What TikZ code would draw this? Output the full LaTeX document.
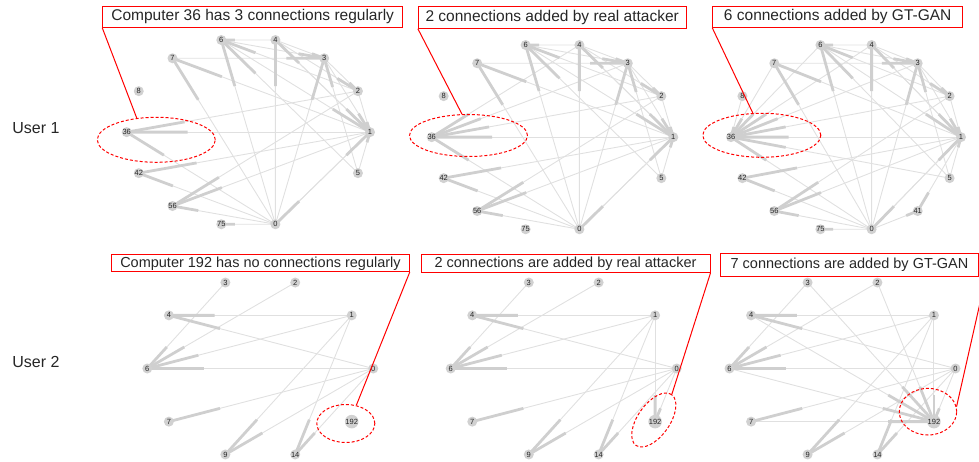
\documentclass[tikz,border=0pt]{standalone}
\usepackage{fontspec}
\setmainfont{Liberation Sans}
\usetikzlibrary{calc,backgrounds,shapes.geometric}

\tikzset{
  host/.style={circle, fill=black!18, minimum size=10pt, inner sep=0pt,
    font=\fontsize{7.5}{8}\selectfont, text=black!85},
  link/.style={black!12, line width=0.9pt},
  linkhead/.style={black!19, line width=2.8pt},
  note/.style={draw=red, line width=0.9pt, inner sep=0pt, text=black!85},
  topnote/.style={note, font=\fontsize{15.5}{16}\selectfont},
  lownote/.style={note, font=\fontsize{14.5}{15}\selectfont},
  ring/.style={ellipse, draw=red, line width=1pt, dash pattern=on 3pt off 2pt, inner sep=0pt},
  pointer/.style={red, line width=1pt},
  rowlabel/.style={font=\fontsize{16}{18}\selectfont, text=black!85},
}

% hosts on an ellipse: prefix, cx, cy, rx, ry, slots, slot/label list
\newcommand{\placehosts}[7]{%
  \edef\hostlist{#7}%
  \foreach \k/\lab in \hostlist
    \node[host] (#1\lab) at ({#2+#4*cos(\k*360/#6)}, {#3-#5*sin(\k*360/#6)}) {\lab};
}
% links source/target, thick quarter at the target end
\newcommand{\drawlinks}[2]{%
  \edef\linklist{#2}%
  \begin{pgfonlayer}{background}
    \foreach \src/\dst in \linklist
      \draw[link] (#1\src.center) -- (#1\dst.center);
    \foreach \src/\dst in \linklist
      \draw[linkhead] ($(#1\src.center)!0.75!(#1\dst.center)$) -- (#1\dst.center);
  \end{pgfonlayer}
}

\newcommand{\topslots}{0/1,1/2,2/3,3/4,4/6,5/7,6/8,7/36,8/42,9/56,10/75,11/0,13/5}
\newcommand{\lowslots}{0/0,1/1,2/2,3/3,4/4,5/6,6/7,7/9,8/14,9/192}
\newcommand{\toplinks}{1/36,2/36,0/36,1/42,0/42,2/56,1/56,0/56,7/3,1/7,0/7,0/4,1/4,4/6,2/6,5/6,0/6,0/3,5/3,6/3,4/3,6/1,4/1,3/1,2/1,0/1,1/0,5/1,3/2,4/2}
\newcommand{\lowlinks}{1/4,0/4,3/6,2/6,1/6,0/6,0/7,1/9,0/9,1/14,0/14}

\begin{document}
\begin{tikzpicture}[x=1pt, y=-1pt]
  \useasboundingbox (0,0) rectangle (979,462);
  % row labels
  \node[rowlabel] (user1) at (36,128) {User 1};
  \node[rowlabel] (user2) at (36,362) {User 2};

  % User 1: regular, real attacker, GT-GAN
  \placehosts{a}{248.35}{132.15}{121.65}{94.5}{14}{\topslots}
  \placehosts{b}{552.5}{137.15}{120.8}{94.5}{14}{\topslots}
  \placehosts{c}{846}{137.15}{115}{94.5}{14}{\topslots,12/41}
  \drawlinks{a}{\toplinks,0/75}
  \drawlinks{b}{\toplinks,3/36,4/36}
  \drawlinks{c}{\toplinks,0/75,8/36,7/36,6/36,4/36,3/36,5/36,1/41,0/41}

  % User 2: regular, real attacker, GT-GAN
  \placehosts{d}{260.3}{368.5}{113}{90.4}{10}{\lowslots}
  \placehosts{e}{563.7}{368.5}{113}{90.4}{10}{\lowslots}
  \placehosts{f}{842.5}{368.5}{113}{90.4}{10}{\lowslots}
  \drawlinks{d}{\lowlinks}
  \drawlinks{e}{\lowlinks,1/192,0/192}
  \drawlinks{f}{\lowlinks,3/192,2/192,4/192,1/192,6/192,0/192,7/192}

  % notes on User 1
  \node[topnote, minimum width=300pt, minimum height=21.3pt] (n1) at (252.7,16.7) {Computer 36 has 3 connections regularly};
  \node[topnote, minimum width=267.7pt, minimum height=22.3pt] (n2) at (552.2,17.2) {2 connections added by real attacker};
  \node[topnote, minimum width=250pt, minimum height=21.3pt] (n3) at (837.7,16.7) {6 connections added by GT-GAN};
  \node[ring, minimum width=118pt, minimum height=45pt] (r1) at (156.3,139.8) {};
  \node[ring, minimum width=118pt, minimum height=42pt] (r2) at (468.5,135.5) {};
  \node[ring, minimum width=118pt, minimum height=44pt] (r3) at (761.8,135.3) {};
  \draw[pointer] (n1.south west) -- (r1.132);
  \draw[pointer] (n2.south west) -- (r2.107);
  \draw[pointer] (n3.south west) -- (r3.112);

  % notes on User 2
  \node[lownote, minimum width=297.6pt, minimum height=16.7pt] (n4) at (260.5,263.3) {Computer 192 has no connections regularly};
  \node[lownote, minimum width=289pt, minimum height=17.7pt] (n5) at (565.5,263.8) {2 connections are added by real attacker};
  \node[lownote, minimum width=257.6pt, minimum height=22.7pt] (n6) at (849.5,264.7) {7 connections are added by GT-GAN};
  \node[ring, minimum width=58pt, minimum height=38pt] (r4) at (345.8,423.5) {};
  \node[ring, minimum width=62pt, minimum height=32pt, rotate=55] (r5) at (653.8,420) {};
  \node[ring, minimum width=57.4pt, minimum height=46.6pt] (r6) at (928,411.7) {};
  \coordinate (off6) at (987,272);
  \draw[pointer] (n4.south east) -- (r4.60);
  \draw[pointer] (n5.south east) -- (r5.east);
  \draw[pointer] (off6) -- (r6.10);
\end{tikzpicture}
\end{document}
